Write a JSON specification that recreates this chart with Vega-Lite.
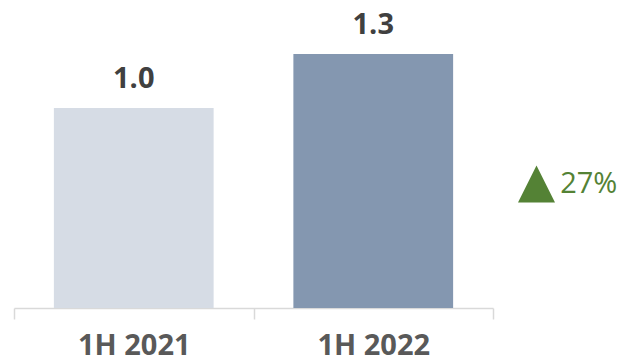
{
  "$schema": "https://vega.github.io/schema/vega-lite/v6.json",
  "padding": {"left": 13, "top": 0, "right": 0, "bottom": 0},
  "background": "white",
  "spacing": 0,
  "config": {"view": {"stroke": null}, "font": "Open Sans"},
  "hconcat": [
    {
      "width": 479,
      "height": 308,
      "data": {"values": [
        {"period": "1H 2021", "value": 1.0, "label": "1.0"},
        {"period": "1H 2022", "value": 1.27, "label": "1.3"}
      ]},
      "encoding": {
        "x": {"field": "period", "type": "nominal", "sort": null,
          "scale": {"paddingInner": 0, "paddingOuter": 0},
          "axis": {"title": null, "labelAngle": 0, "tickBand": "extent", "domainColor": "#d9d9d9", "domainWidth": 1.5,
            "tickColor": "#d9d9d9", "tickWidth": 1.5, "tickSize": 11, "labelPadding": 12,
            "labelFont": "Open Sans", "labelFontSize": 29, "labelFontWeight": "bold", "labelColor": "#595959"}},
        "y": {"field": "value", "type": "quantitative", "scale": {"domain": [0, 1.54], "nice": false, "zero": true}, "axis": null}
      },
      "layer": [
        {"mark": {"type": "bar", "width": {"band": 0.667}},
         "encoding": {"color": {"field": "period", "type": "nominal", "scale": {"range": ["#d6dce5", "#8497b0"]}, "legend": null}}},
        {"mark": {"type": "text", "dy": -20, "baseline": "alphabetic", "font": "Open Sans", "fontSize": 29, "fontWeight": "bold", "color": "#404040"},
         "encoding": {"text": {"field": "label"}}}
      ]
    },
    {
      "width": 135,
      "height": 308,
      "data": {"values": [{"change": "27%"}]},
      "encoding": {
        "y": {"datum": 0.62, "type": "quantitative", "scale": {"domain": [0, 1.54], "nice": false}, "axis": null}
      },
      "layer": [
        {"mark": {"type": "point", "shape": "M0,-1L-1,1L1,1Z", "filled": true, "size": 1369, "color": "#548235", "opacity": 1},
         "encoding": {"x": {"datum": 0.315, "type": "quantitative", "scale": {"domain": [0, 1]}, "axis": null}}},
        {"mark": {"type": "text", "align": "left", "baseline": "middle", "font": "Open Sans", "fontSize": 29, "color": "#548235"},
         "encoding": {"x": {"datum": 0.49, "type": "quantitative"}, "text": {"field": "change"}}}
      ]
    }
  ]
}
